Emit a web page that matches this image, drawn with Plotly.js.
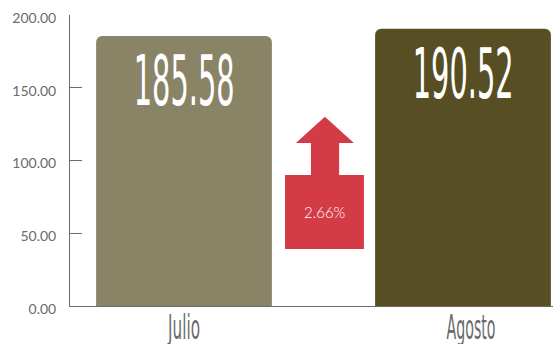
<!DOCTYPE html>
<html>
<head>
<meta charset="utf-8">
<script src="https://cdn.plot.ly/plotly-3.0.1.min.js"></script>
<style>
  html, body { margin: 0; padding: 0; background: #fff; }
  #chart { width: 553px; height: 344px; }
</style>
</head>
<body>
<div id="chart"></div>
<script>
// Monthly totals
const categories = ['Julio', 'Agosto'];
const values = [185.58, 190.52];
const barColors = ['#8a8466', '#574f23'];
const yTickValues = [0, 50, 100, 150, 200];

// Month-over-month change
const change = (values[1] - values[0]) / values[0] * 100;
const changeLabel = change.toFixed(2) + '%';

// Up-arrow outline between the bars (x in category index units, y in axis units)
const arrow = {
  boxX: [0.362, 0.645], boxY: [39.2, 90.1],
  stemX: [0.455, 0.556], stemTop: 112.1,
  headX: [0.401, 0.609], tipX: 0.505, tipY: 130.0
};

const arrowPath = [
  'M', arrow.boxX[0], arrow.boxY[0],
  'L', arrow.boxX[0], arrow.boxY[1],
  'L', arrow.stemX[0], arrow.boxY[1],
  'L', arrow.stemX[0], arrow.stemTop,
  'L', arrow.headX[0], arrow.stemTop,
  'L', arrow.tipX, arrow.tipY,
  'L', arrow.headX[1], arrow.stemTop,
  'L', arrow.stemX[1], arrow.stemTop,
  'L', arrow.stemX[1], arrow.boxY[1],
  'L', arrow.boxX[1], arrow.boxY[1],
  'L', arrow.boxX[1], arrow.boxY[0],
  'Z'
].join(' ');

const narrow = 'Liberation Sans Narrow, DejaVu Sans Condensed, sans-serif';

// Display widths (px) and horizontal nudges for the condensed month labels
const monthLabelStyle = {
  Julio: { width: 32, dx: 0 },
  Agosto: { width: 49, dx: 8 }
};

const trace = {
  type: 'bar',
  x: categories,
  y: values,
  width: 0.63,
  marker: { color: barColors, line: { width: 0 } },
  hoverinfo: 'skip'
};

const valueAnnotations = categories.map((c, i) => ({
  x: c, y: values[i], xref: 'x', yref: 'y',
  text: values[i].toFixed(2),
  showarrow: false,
  yanchor: 'middle', yshift: -45,
  font: { family: narrow, size: 70, color: '#ffffff' }
}));

const layout = {
  width: 553, height: 344,
  margin: { l: 70, r: 0, t: 15, b: 38 },
  paper_bgcolor: '#ffffff', plot_bgcolor: '#ffffff',
  showlegend: false,
  barcornerradius: 6,
  xaxis: {
    type: 'category',
    range: [-0.4086, 1.3226],
    showline: true, linecolor: '#6b6b6b', linewidth: 1,
    ticks: '', showgrid: false, zeroline: false,
    tickfont: { family: narrow, size: 34, color: '#6b6b6b' },
    ticklabelstandoff: -9
  },
  yaxis: {
    range: [0, 200],
    tickvals: yTickValues,
    tickformat: '.2f',
    showline: true, linecolor: '#6b6b6b', linewidth: 1,
    ticks: 'inside', ticklen: 12, tickcolor: '#6b6b6b', tickwidth: 1,
    showgrid: false, zeroline: false,
    tickfont: { family: 'Lato, sans-serif', size: 14, color: '#6b6b6b' },
    ticklabelstandoff: 10,
    ticklabelshift: 3
  },
  shapes: [{
    type: 'path', xref: 'x', yref: 'y',
    path: arrowPath,
    fillcolor: '#d33c46', line: { width: 0 }, layer: 'above'
  }],
  annotations: valueAnnotations.concat([{
    x: (arrow.boxX[0] + arrow.boxX[1]) / 2,
    y: (arrow.boxY[0] + arrow.boxY[1]) / 2,
    xref: 'x', yref: 'y',
    text: changeLabel, showarrow: false,
    font: { family: 'Lato, sans-serif', size: 15, color: '#ffffff', weight: 300 }
  }])
};

// Squeeze a condensed label horizontally to a given display width
function condense(el, width) {
  el.setAttribute('textLength', width.toFixed(1));
  el.setAttribute('lengthAdjust', 'spacingAndGlyphs');
}

Plotly.newPlot('chart', [trace], layout, { displayModeBar: false, responsive: false })
  .then(gd => {
    gd.querySelectorAll('text.annotation-text').forEach(t => {
      if (values.map(v => v.toFixed(2)).includes(t.textContent)) {
        condense(t, t.textContent.length * 16.8);
      }
    });
    gd.querySelectorAll('g.xtick text').forEach(t => {
      const s = monthLabelStyle[t.textContent];
      if (!s) return;
      condense(t, s.width);
      if (s.dx) t.setAttribute('dx', s.dx);
    });
  });
</script>
</body>
</html>
